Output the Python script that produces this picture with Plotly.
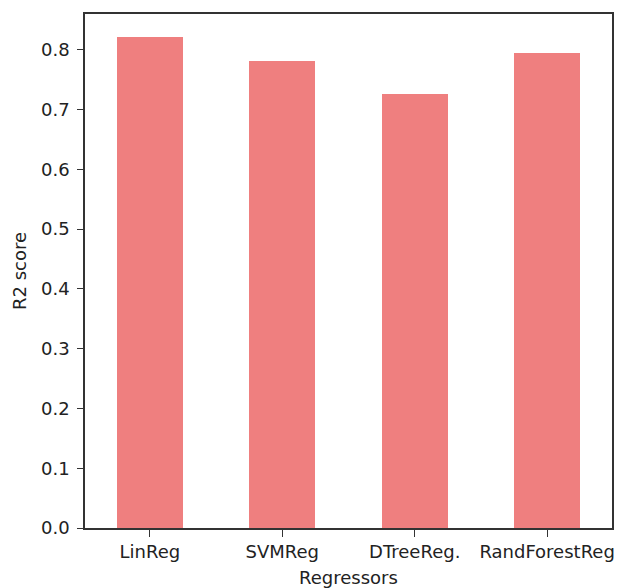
import plotly.graph_objects as go

categories = ["LinReg", "SVMReg", "DTreeReg.", "RandForestReg"]
r2_scores = [0.821, 0.782, 0.726, 0.795]
y_ticks = [0.0, 0.1, 0.2, 0.3, 0.4, 0.5, 0.6, 0.7, 0.8]
y_tick_labels = ["0.0", "0.1", "0.2", "0.3", "0.4", "0.5", "0.6", "0.7", "0.8"]
x_title = "Regressors"
y_title = "R2 score"

fig = go.Figure()
fig.add_trace(go.Bar(
    x=list(range(len(categories))),
    y=r2_scores,
    width=0.5,
    marker=dict(color="#EF7F7F", line=dict(width=0)),
))

font = dict(family="DejaVu Sans", size=18, color="#222222")

fig.update_layout(
    width=618,
    height=588,
    margin=dict(l=85, r=6, t=14, b=60, autoexpand=False),
    paper_bgcolor="white",
    plot_bgcolor="white",
    showlegend=False,
    font=font,
    bargap=0,
)
fig.update_xaxes(
    range=[-0.49, 3.49],
    tickmode="array",
    tickvals=list(range(len(categories))),
    ticktext=categories,
    ticks="outside",
    ticklen=7,
    tickcolor="#333333",
    showline=True,
    linecolor="#333333",
    linewidth=1.5,
    mirror=True,
    showgrid=False,
    zeroline=False,
    tickfont=font,
    automargin=False,
)
fig.update_yaxes(
    range=[0, 0.86],
    tickmode="array",
    tickvals=y_ticks,
    ticktext=y_tick_labels,
    ticks="outside",
    ticklen=6,
    tickcolor="#333333",
    showline=True,
    linecolor="#333333",
    linewidth=1.5,
    mirror=True,
    showgrid=False,
    zeroline=False,
    tickfont=font,
    ticklabelstandoff=4,
    automargin=False,
)
fig.add_annotation(
    text=x_title, xref="paper", yref="paper", x=0.5, y=0,
    xanchor="center", yanchor="top", yshift=-37, showarrow=False, font=font,
)
fig.add_annotation(
    text=y_title, xref="paper", yref="paper", x=0, y=0.5,
    xanchor="center", yanchor="middle", xshift=-66, textangle=-90,
    showarrow=False, font=font,
)

fig.write_html(
    "out.html",
    config={"displayModeBar": False},
    post_script="document.body.style.margin='0';document.body.style.overflow='hidden';",
)
